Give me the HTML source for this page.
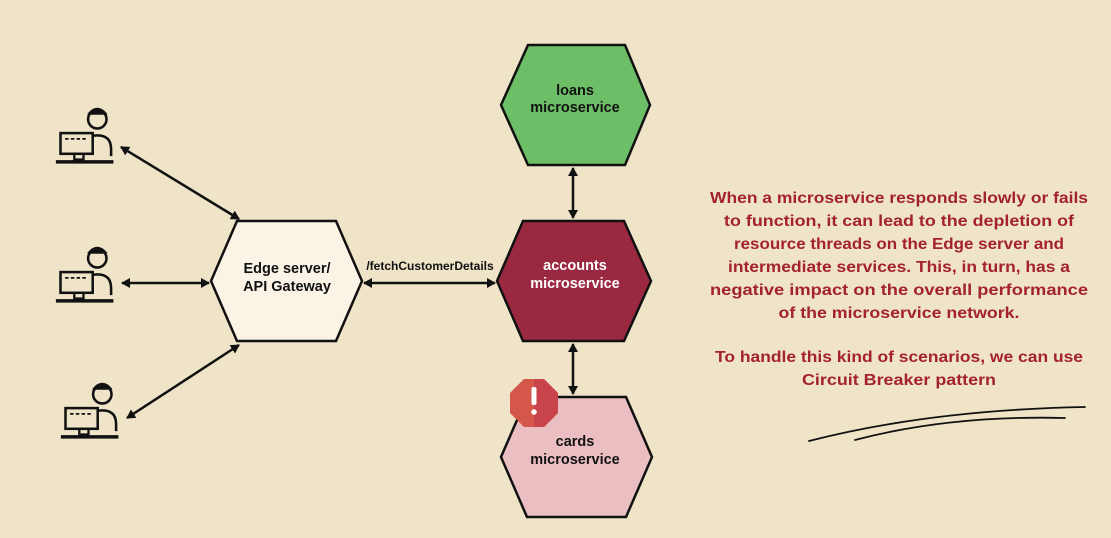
<!DOCTYPE html>
<html><head><meta charset="utf-8"><style>
html,body{margin:0;padding:0;background:#efe3c8;}
svg{display:block}
text{font-family:"Liberation Sans",sans-serif;font-weight:bold}
</style></head><body>
<svg width="1111" height="538" viewBox="0 0 1111 538">
<defs>
<marker id="ah" markerWidth="10" markerHeight="10" refX="8" refY="5" orient="auto-start-reverse" markerUnits="userSpaceOnUse">
<path d="M0,0 L9,5 L0,10 Z" fill="#111"/></marker>
<g id="user">
<circle cx="22" cy="-18" r="8" fill="#efe3c8" stroke="#111" stroke-width="2.2"/>
<path d="M14,-22 q8,-10 16,0" fill="#111" stroke="#111" stroke-width="2"/>
<path d="M10,8 q0,-12 12,-12 q12,0 12,12 v6" fill="none" stroke="#111" stroke-width="2.2"/>
<rect x="-10" y="-6" width="28" height="18" fill="#efe3c8" stroke="#111" stroke-width="2.2"/>
<path d="M-6,-1 h20" stroke="#111" stroke-width="1.5" stroke-dasharray="3,2"/>
<path d="M2,12 v5 h8 v-5" fill="none" stroke="#111" stroke-width="2"/>
<path d="M-14,19 h50" stroke="#111" stroke-width="3"/>
</g>
</defs>

<g><use href="#user" transform="translate(72,140) scale(1.15)"/></g>
<g><use href="#user" transform="translate(72,279) scale(1.15)"/></g>
<g><use href="#user" transform="translate(77,415) scale(1.15)"/></g>

<g stroke="#111" stroke-width="2.5" fill="none">
<line x1="121" y1="147" x2="239" y2="219" marker-start="url(#ah)" marker-end="url(#ah)"/>
<line x1="122" y1="283" x2="209" y2="283" marker-start="url(#ah)" marker-end="url(#ah)"/>
<line x1="127" y1="418" x2="239" y2="345" marker-start="url(#ah)" marker-end="url(#ah)"/>
<line x1="364" y1="283" x2="495" y2="283" marker-start="url(#ah)" marker-end="url(#ah)"/>
<line x1="573" y1="168" x2="573" y2="218" marker-start="url(#ah)" marker-end="url(#ah)"/>
<line x1="573" y1="344" x2="573" y2="394" marker-start="url(#ah)" marker-end="url(#ah)"/>
</g>

<polygon points="528,45 625,45 650,105 625,165 528,165 501,105" fill="#6dbf67" stroke="#111" stroke-width="2.5"/>
<text x="575" y="95" font-size="14.5" text-anchor="middle" fill="#111">loans</text>
<text x="575" y="112" font-size="14.5" text-anchor="middle" fill="#111">microservice</text>

<polygon points="237,221 336,221 362,281 336,341 237,341 211,281" fill="#fbf4e6" stroke="#111" stroke-width="2.5"/>
<text x="287" y="273" font-size="14.5" text-anchor="middle" fill="#111">Edge server/</text>
<text x="287" y="291" font-size="14.5" text-anchor="middle" fill="#111">API Gateway</text>
<text x="430" y="270" font-size="12" text-anchor="middle" fill="#111">/fetchCustomerDetails</text>

<polygon points="523,221 624,221 651,281 624,341 523,341 497,281" fill="#9b2841" stroke="#111" stroke-width="2.5"/>
<text x="575" y="270" font-size="14.5" text-anchor="middle" fill="#fff">accounts</text>
<text x="575" y="288" font-size="14.5" text-anchor="middle" fill="#fff">microservice</text>

<polygon points="527,397 626,397 652,457 626,517 527,517 501,457" fill="#ebbfc1" stroke="#111" stroke-width="2.5"/>
<text x="575" y="446" font-size="14.5" text-anchor="middle" fill="#111">cards</text>
<text x="575" y="464" font-size="14.5" text-anchor="middle" fill="#111">microservice</text>

<g>
<polygon points="524,379 544,379 558,393 558,413 544,427 524,427 510,413 510,393" fill="#d4574a"/>
<polygon points="534,379 544,379 558,393 558,413 544,427 534,427" fill="#c8434a"/>
<rect x="531.5" y="387" width="5" height="18" rx="2" fill="#fff"/>
<circle cx="534" cy="412" r="2.8" fill="#fff"/>
</g>

<g fill="#a3222d" text-anchor="middle" font-size="15.5">
<text x="899" y="203" textLength="378" lengthAdjust="spacingAndGlyphs">When a microservice responds slowly or fails</text>
<text x="899" y="226" textLength="350" lengthAdjust="spacingAndGlyphs">to function, it can lead to the depletion of</text>
<text x="899" y="249" textLength="330" lengthAdjust="spacingAndGlyphs">resource threads on the Edge server and</text>
<text x="899" y="272" textLength="342" lengthAdjust="spacingAndGlyphs">intermediate services. This, in turn, has a</text>
<text x="899" y="295" textLength="378" lengthAdjust="spacingAndGlyphs">negative impact on the overall performance</text>
<text x="899" y="318" textLength="241" lengthAdjust="spacingAndGlyphs">of the microservice network.</text>
<text x="899" y="362" textLength="368" lengthAdjust="spacingAndGlyphs">To handle this kind of scenarios, we can use</text>
<text x="899" y="385" textLength="194" lengthAdjust="spacingAndGlyphs">Circuit Breaker pattern</text>
</g>

<g fill="none" stroke="#111" stroke-width="1.8" stroke-linecap="round">
<path d="M809,441 Q930,410 1085,407"/>
<path d="M855,440 Q950,415 1065,418"/>
</g>
</svg>
</body></html>
